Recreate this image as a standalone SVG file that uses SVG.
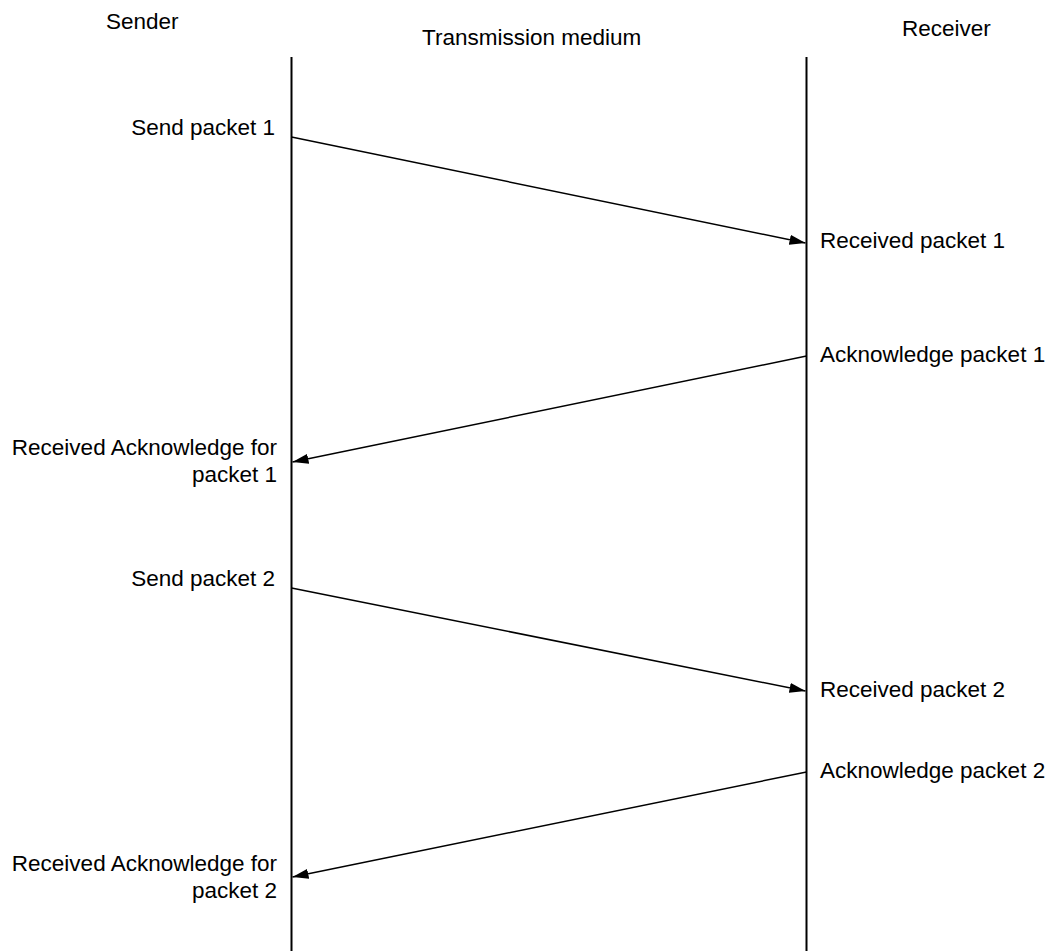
<svg xmlns="http://www.w3.org/2000/svg" width="1049" height="951" viewBox="0 0 1049 951">
  <style>
    text { font-family: "Liberation Sans", Arial, sans-serif; font-size: 22.5px; fill: #000; }
    .end { text-anchor: end; }
    .life { stroke: #000; stroke-width: 2; fill: none; }
    .msg { stroke: #000; stroke-width: 1.5; fill: none; }
  </style>
  <defs>
    <marker id="arrow" viewBox="0 0 16 10" refX="16" refY="5" markerWidth="16" markerHeight="10" markerUnits="userSpaceOnUse" orient="auto">
      <path d="M0,0 L16,5 L0,10 Z" fill="#000"/>
    </marker>
  </defs>
  <rect width="1049" height="951" fill="#fff"/>

  <g id="headers">
    <text x="106" y="29">Sender</text>
    <text x="422" y="45">Transmission medium</text>
    <text x="902" y="36">Receiver</text>
  </g>

  <g id="lifelines">
    <line class="life" x1="291.5" y1="57" x2="291.5" y2="951"/>
    <line class="life" x1="806.5" y1="57" x2="806.5" y2="951"/>
  </g>

  <g id="connectors">
    <line class="msg" x1="291.5" y1="137" x2="805.5" y2="243" marker-end="url(#arrow)"/>
    <line class="msg" x1="806.5" y1="356" x2="292.5" y2="462" marker-end="url(#arrow)"/>
    <line class="msg" x1="291.5" y1="588" x2="805.5" y2="691" marker-end="url(#arrow)"/>
    <line class="msg" x1="806.5" y1="772" x2="292.5" y2="877" marker-end="url(#arrow)"/>
  </g>

  <g id="send1"><text class="end" x="275" y="135">Send packet 1</text></g>
  <g id="recv1"><text x="820" y="248">Received packet 1</text></g>
  <g id="ack1"><text x="820" y="362">Acknowledge packet 1</text></g>
  <g id="recvack1">
    <text class="end" x="277" y="455">Received Acknowledge for</text>
    <text class="end" x="277" y="482">packet 1</text>
  </g>
  <g id="send2"><text class="end" x="275" y="586">Send packet 2</text></g>
  <g id="recv2"><text x="820" y="697">Received packet 2</text></g>
  <g id="ack2"><text x="820" y="778">Acknowledge packet 2</text></g>
  <g id="recvack2">
    <text class="end" x="277" y="871">Received Acknowledge for</text>
    <text class="end" x="277" y="898">packet 2</text>
  </g>
</svg>
